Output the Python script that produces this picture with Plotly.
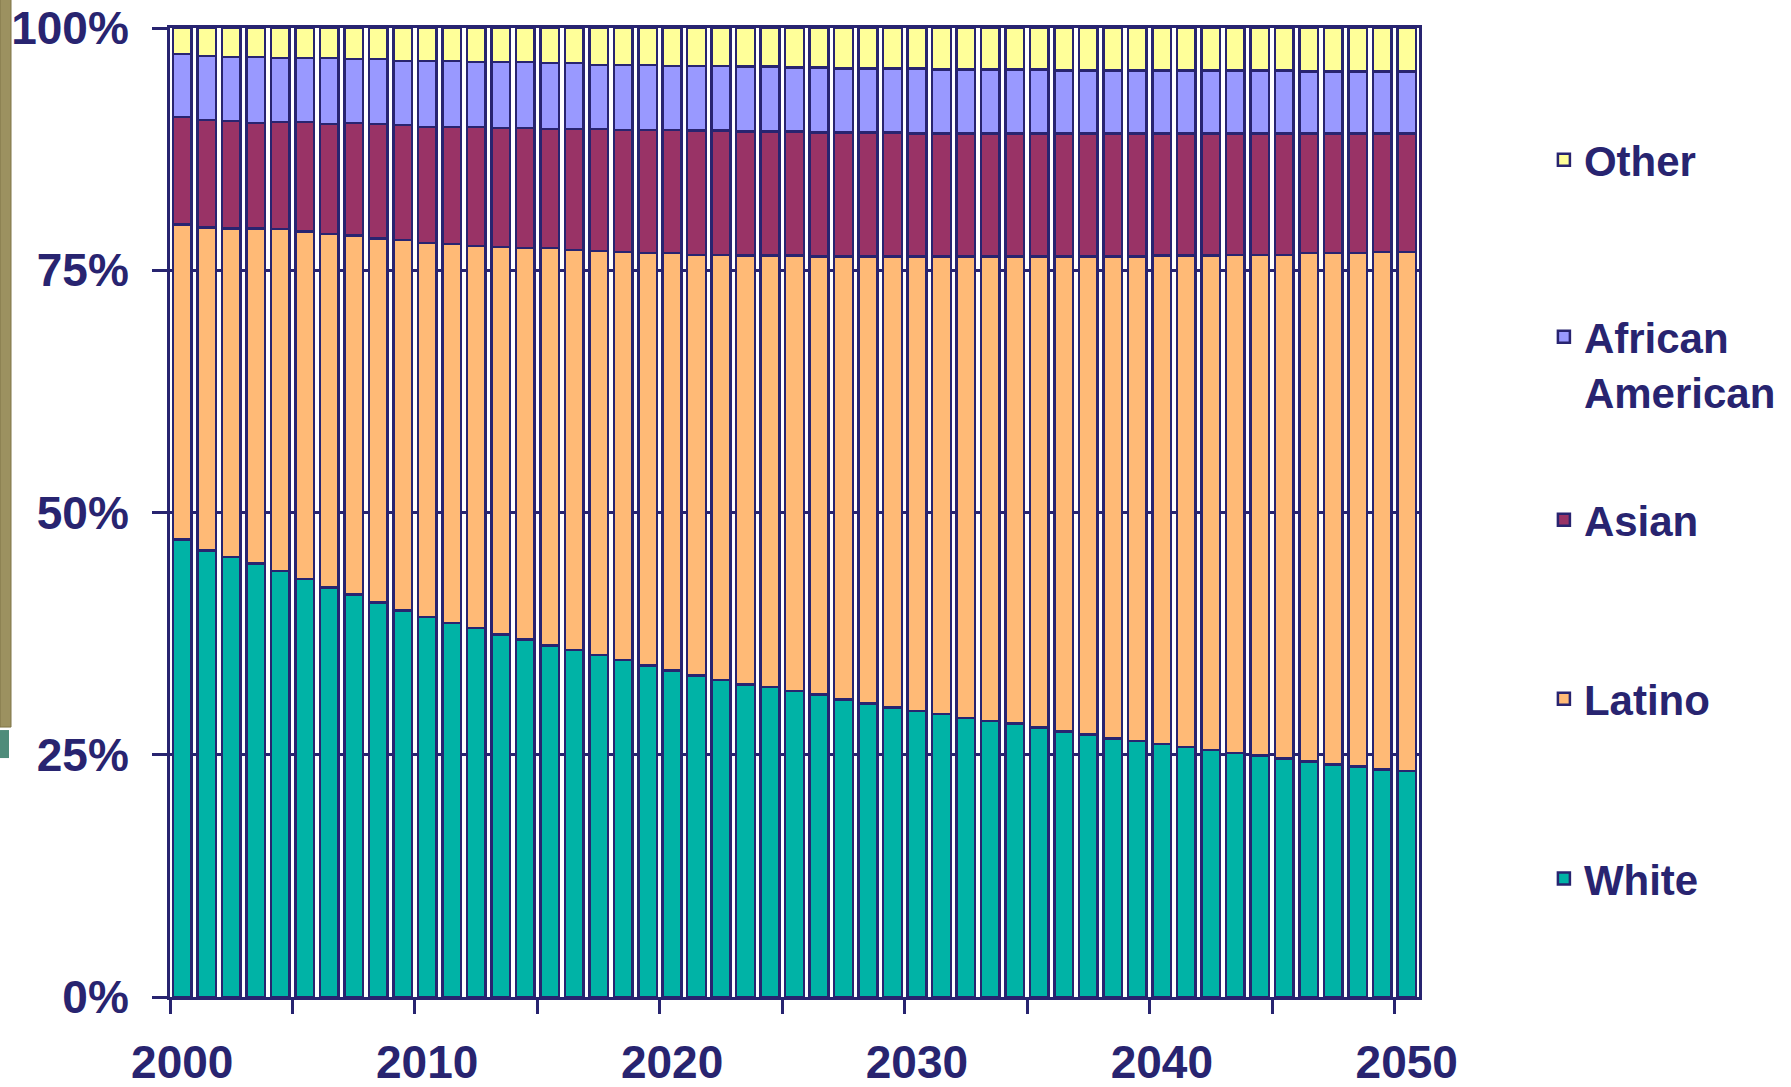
import plotly.graph_objects as go

NAVY = "#282470"

years = list(range(2000, 2051))
tick_years = [2000, 2010, 2020, 2030, 2040, 2050]
tick_text = ["2000", "2010", "2020", "2030", "2040", "2050"]
pct_ticks = [0, 25, 50, 75, 100]
pct_text = ["0%", "25%", "50%", "75%", "100%"]

white = [47.2, 46.1, 45.4, 44.8, 43.9, 43.1, 42.3, 41.5, 40.7, 39.9,
         39.2, 38.6, 38.1, 37.4, 36.9, 36.3, 35.8, 35.3, 34.8, 34.2,
         33.7, 33.2, 32.7, 32.3, 32.0, 31.6, 31.2, 30.7, 30.3, 29.9,
         29.5, 29.2, 28.8, 28.5, 28.2, 27.8, 27.4, 27.1, 26.7, 26.4,
         26.1, 25.8, 25.5, 25.2, 24.9, 24.6, 24.3, 24.0, 23.8, 23.5, 23.3]
latino = [32.5, 33.3, 33.9, 34.6, 35.3, 35.8, 36.5, 37.0, 37.6, 38.2,
          38.6, 39.1, 39.4, 40.0, 40.4, 41.0, 41.3, 41.7, 42.1, 42.6,
          43.1, 43.4, 43.9, 44.3, 44.6, 44.9, 45.2, 45.7, 46.1, 46.5,
          46.9, 47.2, 47.6, 47.9, 48.2, 48.6, 49.0, 49.3, 49.7, 50.0,
          50.4, 50.7, 51.0, 51.4, 51.7, 52.0, 52.5, 52.8, 53.0, 53.4, 53.6]
asian = [11.1, 11.1, 11.1, 10.9, 11.0, 11.3, 11.4, 11.6, 11.8, 11.9,
         12.0, 12.1, 12.3, 12.3, 12.4, 12.3, 12.5, 12.6, 12.6, 12.7,
         12.7, 12.8, 12.8, 12.8, 12.8, 12.8, 12.8, 12.8, 12.8, 12.8,
         12.7, 12.7, 12.7, 12.7, 12.7, 12.7, 12.7, 12.7, 12.7, 12.7,
         12.6, 12.6, 12.6, 12.5, 12.5, 12.5, 12.3, 12.3, 12.3, 12.2, 12.2]
african_american = [6.5, 6.6, 6.6, 6.8, 6.6, 6.6, 6.8, 6.6, 6.7, 6.6,
                    6.8, 6.8, 6.7, 6.8, 6.8, 6.8, 6.8, 6.6, 6.7, 6.7,
                    6.6, 6.7, 6.7, 6.7, 6.7, 6.6, 6.7, 6.6, 6.6, 6.6,
                    6.7, 6.6, 6.6, 6.6, 6.6, 6.6, 6.5, 6.5, 6.5, 6.5,
                    6.5, 6.5, 6.5, 6.5, 6.5, 6.5, 6.4, 6.4, 6.4, 6.4, 6.4]
other = [2.7, 2.9, 3.0, 3.0, 3.1, 3.1, 3.1, 3.2, 3.2, 3.4,
         3.4, 3.4, 3.5, 3.5, 3.5, 3.6, 3.6, 3.8, 3.8, 3.8,
         3.9, 3.9, 3.9, 4.0, 4.0, 4.1, 4.1, 4.2, 4.2, 4.2,
         4.2, 4.3, 4.3, 4.3, 4.3, 4.3, 4.4, 4.4, 4.4, 4.4,
         4.4, 4.4, 4.4, 4.4, 4.4, 4.4, 4.5, 4.5, 4.5, 4.5, 4.5]

series = [
    ("White", white, "#00B3A6", "legend5", 0.122),
    ("Latino", latino, "#FFBA76", "legend4", 0.3075),
    ("Asian", asian, "#993366", "legend3", 0.4923),
    ("African<br>American", african_american, "#9999FF", "legend2", 0.6527),
    ("Other", other, "#FFFF99", "legend", 0.8638),
]

FONT = "Liberation Sans, Arial, sans-serif"

fig = go.Figure()
legends = {}
for name, vals, color, leg, ly in series:
    fig.add_trace(
        go.Bar(
            x=years,
            y=vals,
            name=name,
            marker=dict(color=color, line=dict(color=NAVY, width=2.5)),
            legend=leg,
            hovertemplate=name.replace("<br>", " ") + " %{x}: %{y:.1f}%<extra></extra>",
        )
    )
    legends[leg] = dict(
        x=1.1, y=ly, xanchor="left", yanchor="middle",
        valign="top", bgcolor="rgba(0,0,0,0)",
        font=dict(family=FONT, size=42, color=NAVY, weight="bold"),
    )

fig.update_layout(
    barmode="stack",
    barnorm="percent",
    bargap=0.24,
    width=1791,
    height=1087,
    margin=dict(l=170, r=372, t=28, b=90, autoexpand=False),
    paper_bgcolor="white",
    plot_bgcolor="white",
    showlegend=True,
    **legends,
)

fig.update_xaxes(
    range=[1999.5, 2050.5],
    tickmode="array",
    tickvals=tick_years,
    ticktext=tick_text,
    ticks="",
    ticklabelstandoff=23,
    tickfont=dict(family=FONT, size=46, color=NAVY, weight="bold"),
    showgrid=False,
    zeroline=False,
    showline=True,
    linecolor=NAVY,
    linewidth=3,
    mirror=True,
    minor=dict(tickmode="linear", tick0=1999.5, dtick=5, ticks="outside",
               ticklen=14, tickwidth=2.5, tickcolor=NAVY, showgrid=False),
)
fig.update_yaxes(
    range=[0, 100],
    tickmode="array",
    tickvals=pct_ticks,
    ticktext=pct_text,
    ticks="outside",
    ticklen=15,
    tickwidth=2.5,
    tickcolor=NAVY,
    ticklabelstandoff=14,
    tickfont=dict(family=FONT, size=46, color=NAVY, weight="bold"),
    showgrid=True,
    gridcolor=NAVY,
    gridwidth=2.5,
    zeroline=False,
    showline=True,
    linecolor=NAVY,
    linewidth=3,
    mirror=True,
)

# decorative slide strip on the far left
fig.add_shape(type="rect", xref="paper", yref="paper",
              x0=-0.1361, x1=-0.1273, y0=0.2786, y1=1.03,
              fillcolor="#9C9160", line=dict(color="#7F7546", width=1), layer="above")
fig.add_shape(type="rect", xref="paper", yref="paper",
              x0=-0.1361, x1=-0.1289, y0=0.2466, y1=0.2755,
              fillcolor="#4E8C7A", line=dict(width=0), layer="above")

fig.write_html(
    "out.html",
    config={"displayModeBar": False},
    post_script="document.body.style.margin='0';",
)
